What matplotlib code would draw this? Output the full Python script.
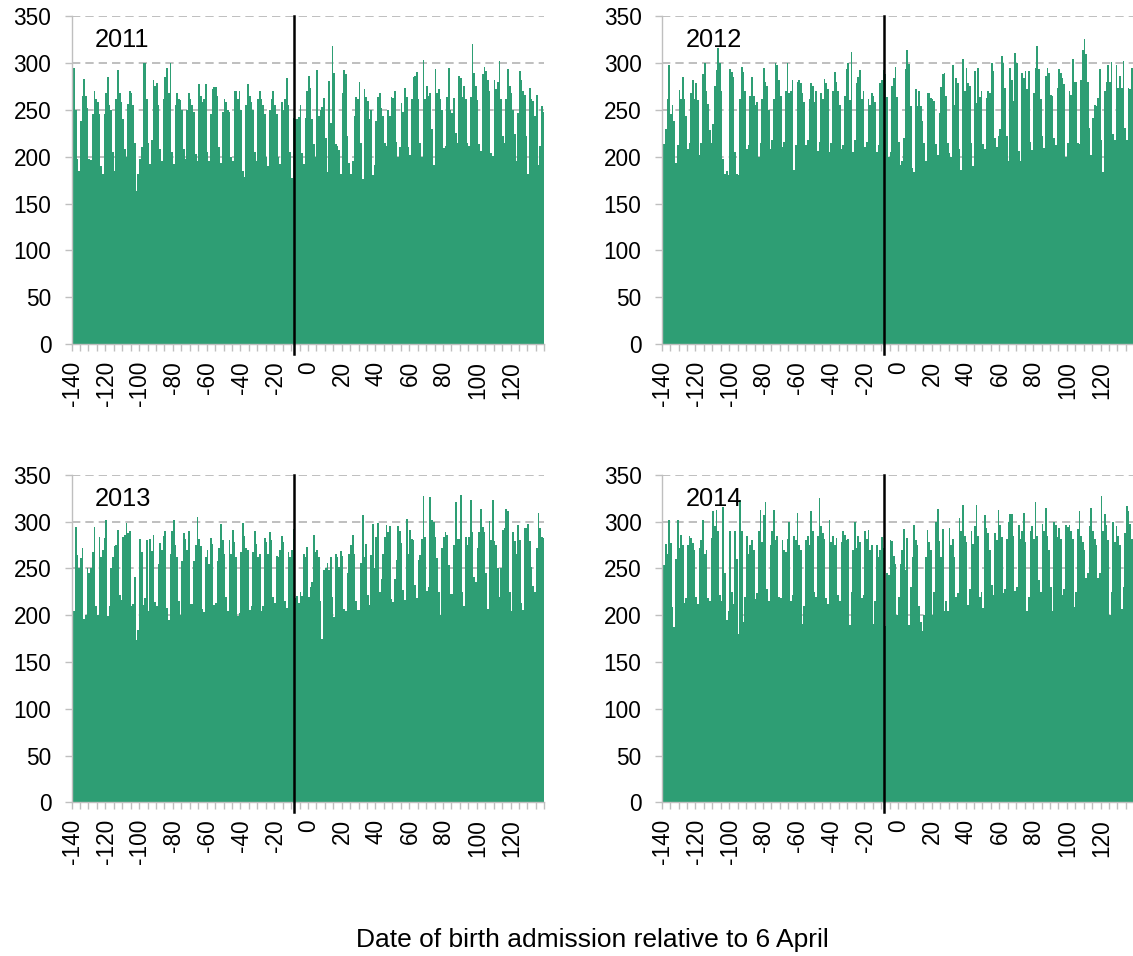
import numpy as np
import matplotlib
matplotlib.use("Agg")
import matplotlib.pyplot as plt

plt.rcParams["font.family"] = ["Liberation Sans", "DejaVu Sans"]

# Daily admissions for birth, days -140 .. 139 relative to 6 April
days = np.arange(-140, 140)

counts_2011 = [
    232, 295, 250, 198, 185, 238, 265,
    283, 265, 252, 197, 196, 245, 270,
    262, 258, 245, 190, 182, 245, 268,
    285, 255, 250, 205, 185, 262, 292,
    268, 258, 240, 208, 200, 256, 270,
    268, 255, 215, 163, 182, 198, 210,
    300, 300, 262, 215, 192, 218, 282,
    275, 278, 255, 208, 195, 262, 285,
    295, 268, 300, 205, 192, 255, 268,
    262, 260, 250, 208, 197, 250, 268,
    262, 255, 248, 203, 195, 277, 265,
    258, 262, 277, 205, 195, 245, 272,
    274, 274, 265, 210, 193, 248, 262,
    258, 250, 248, 200, 195, 270, 270,
    262, 270, 250, 185, 178, 255, 277,
    265, 258, 250, 205, 195, 262, 270,
    262, 255, 245, 200, 190, 250, 262,
    270, 255, 245, 200, 192, 258, 250,
    262, 284, 255, 205, 177, 241, 240,
    240, 242, 255, 204, 192, 241, 270,
    286, 273, 240, 213, 200, 292, 243,
    250, 253, 263, 220, 184, 281, 236,
    318, 289, 213, 211, 207, 181, 268,
    292, 288, 222, 193, 181, 195, 243,
    264, 262, 280, 215, 176, 272, 264,
    259, 240, 250, 180, 191, 238, 264,
    268, 252, 243, 215, 211, 250, 243,
    264, 263, 270, 216, 200, 210, 257,
    248, 273, 264, 210, 202, 262, 285,
    286, 290, 262, 215, 200, 303, 261,
    275, 265, 268, 229, 191, 293, 268,
    272, 262, 250, 209, 211, 264, 295,
    250, 247, 263, 225, 215, 286, 284,
    264, 275, 262, 215, 211, 264, 320,
    289, 275, 260, 213, 206, 288, 296,
    291, 282, 270, 204, 201, 282, 272,
    280, 302, 262, 222, 215, 262, 293,
    275, 268, 250, 224, 195, 247, 291,
    282, 270, 266, 222, 181, 273, 261,
    259, 243, 266, 191, 211, 254, 248,
]

counts_2012 = [
    280, 213, 229, 261, 298, 245, 255,
    238, 193, 212, 271, 262, 285, 262,
    243, 208, 215, 268, 282, 262, 278,
    260, 202, 215, 288, 300, 270, 256,
    228, 215, 235, 275, 292, 316, 300,
    270, 197, 182, 185, 180, 293, 290,
    285, 205, 182, 180, 262, 296, 290,
    270, 208, 212, 265, 285, 265, 255,
    258, 200, 215, 262, 295, 280, 275,
    250, 208, 218, 262, 300, 298, 282,
    265, 210, 216, 270, 300, 268, 270,
    282, 186, 212, 280, 282, 278, 268,
    258, 212, 218, 262, 278, 275, 258,
    270, 206, 216, 268, 262, 283, 278,
    272, 205, 215, 270, 290, 280, 270,
    255, 208, 212, 265, 293, 300, 260,
    312, 205, 218, 278, 285, 292, 262,
    270, 210, 216, 262, 255, 268, 265,
    258, 205, 212, 278, 282, 292, 288,
    264, 200, 205, 275, 284, 296, 264,
    216, 191, 195, 220, 293, 314, 299,
    254, 188, 184, 272, 254, 270, 254,
    238, 215, 195, 268, 268, 263, 261,
    259, 213, 202, 247, 274, 288, 289,
    265, 215, 204, 200, 298, 255, 284,
    279, 208, 186, 304, 270, 295, 278,
    275, 215, 190, 291, 257, 294, 264,
    270, 213, 208, 263, 270, 268, 300,
    291, 220, 210, 222, 229, 307, 300,
    273, 222, 195, 295, 282, 259, 311,
    300, 206, 195, 289, 284, 291, 272,
    291, 216, 207, 268, 295, 318, 293,
    262, 222, 209, 286, 295, 289, 266,
    265, 220, 212, 273, 293, 289, 284,
    277, 200, 215, 270, 266, 304, 280,
    280, 215, 213, 282, 314, 325, 309,
    280, 231, 202, 241, 255, 254, 263,
    293, 218, 184, 270, 280, 298, 280,
    301, 224, 218, 298, 273, 286, 273,
    302, 231, 218, 273, 272, 295, 279,
]

counts_2013 = [
    216, 205, 294, 264, 251, 261, 272,
    196, 200, 250, 245, 251, 268, 294,
    210, 200, 284, 262, 270, 283, 302,
    199, 210, 250, 262, 274, 275, 291,
    222, 216, 284, 286, 299, 288, 290,
    210, 212, 241, 174, 184, 282, 268,
    211, 218, 280, 205, 281, 269, 286,
    214, 210, 255, 277, 270, 285, 290,
    208, 195, 265, 290, 302, 275, 262,
    215, 200, 258, 288, 282, 270, 290,
    212, 212, 258, 275, 305, 282, 274,
    207, 203, 262, 270, 255, 283, 276,
    211, 213, 258, 272, 298, 280, 265,
    220, 204, 280, 266, 291, 278, 262,
    199, 202, 268, 299, 285, 272, 270,
    206, 210, 268, 290, 276, 262, 265,
    204, 210, 283, 278, 265, 289, 280,
    220, 213, 263, 262, 270, 285, 278,
    215, 208, 268, 262, 270, 292, 218,
    221, 213, 225, 221, 266, 262, 273,
    219, 230, 236, 286, 268, 270, 262,
    215, 175, 248, 250, 256, 248, 262,
    219, 198, 266, 262, 252, 269, 263,
    207, 204, 245, 266, 275, 286, 265,
    215, 206, 206, 256, 307, 262, 276,
    222, 211, 264, 298, 251, 284, 299,
    225, 239, 265, 284, 296, 289, 295,
    217, 214, 239, 259, 295, 290, 277,
    227, 216, 303, 266, 291, 282, 280,
    232, 218, 259, 264, 282, 328, 284,
    226, 230, 326, 302, 300, 284, 261,
    225, 200, 272, 284, 289, 286, 254,
    223, 223, 275, 321, 282, 282, 329,
    225, 210, 284, 275, 284, 323, 289,
    241, 235, 272, 289, 314, 294, 289,
    245, 207, 301, 280, 323, 279, 275,
    250, 220, 250, 291, 293, 314, 311,
    225, 204, 289, 279, 265, 297, 280,
    213, 206, 293, 293, 298, 279, 252,
    231, 225, 272, 309, 293, 284, 283,
]

counts_2014 = [
    202, 254, 276, 266, 302, 277, 209,
    187, 260, 302, 272, 286, 275, 213,
    218, 275, 285, 283, 277, 270, 220,
    212, 272, 280, 302, 265, 270, 218,
    215, 283, 311, 295, 312, 290, 222,
    215, 316, 245, 195, 205, 290, 225,
    212, 290, 260, 180, 323, 290, 193,
    220, 285, 265, 275, 280, 270, 217,
    224, 290, 312, 278, 307, 321, 228,
    215, 275, 290, 312, 280, 285, 220,
    218, 280, 270, 268, 282, 300, 215,
    222, 285, 280, 309, 275, 270, 191,
    210, 280, 285, 275, 311, 290, 225,
    220, 285, 325, 295, 288, 282, 218,
    212, 302, 278, 285, 275, 283, 222,
    215, 278, 290, 286, 280, 282, 190,
    225, 270, 300, 272, 285, 278, 218,
    222, 290, 282, 291, 270, 275, 191,
    215, 275, 262, 270, 284, 272, 188,
    245, 243, 280, 279, 263, 255, 200,
    220, 255, 270, 292, 248, 283, 190,
    230, 262, 296, 280, 275, 210, 193,
    183, 200, 262, 291, 278, 270, 200,
    225, 300, 314, 279, 262, 292, 204,
    215, 205, 293, 275, 282, 262, 220,
    224, 304, 290, 318, 285, 278, 211,
    228, 290, 276, 295, 318, 285, 220,
    225, 208, 307, 293, 288, 270, 232,
    222, 288, 280, 312, 296, 284, 224,
    228, 282, 300, 308, 308, 285, 226,
    230, 296, 282, 290, 309, 278, 204,
    220, 290, 295, 282, 321, 285, 238,
    225, 298, 290, 315, 285, 270, 230,
    204, 300, 296, 284, 293, 282, 222,
    228, 296, 294, 296, 290, 282, 209,
    225, 292, 311, 285, 278, 270, 240,
    245, 295, 315, 290, 282, 275, 240,
    245, 327, 290, 308, 296, 280, 200,
    225, 300, 278, 295, 285, 275, 207,
    230, 288, 317, 311, 298, 282, 262,
]

years = ["2011", "2012", "2013", "2014"]
series = [counts_2011, counts_2012, counts_2013, counts_2014]
cutoff_day = -9
label_days = list(range(-140, 121, 20))
y_ticks = list(range(0, 351, 50))

bar_color = "#2e9e74"
axis_grey = "#bfbfbf"
grid_grey = "#b4b4b4"

fig = plt.figure(figsize=(11.33, 9.56), dpi=100)

# panel positions in figure fractions: [left, bottom, width, height]
positions = [
    [0.0632, 0.6399, 0.4172, 0.3434],
    [0.5840, 0.6399, 0.4172, 0.3434],
    [0.0632, 0.1608, 0.4172, 0.3424],
    [0.5840, 0.1608, 0.4172, 0.3424],
]

for year, counts, pos in zip(years, series, positions):
    ax = fig.add_axes(pos)
    ax.bar(days, counts, width=1.0, color=bar_color, linewidth=0, zorder=2)

    ax.set_xlim(-140.5, 139.5)
    ax.set_ylim(0, 350)

    # dashed horizontal gridlines behind the bars
    ax.set_axisbelow(True)
    ax.yaxis.grid(True, color=grid_grey, linewidth=1.2, linestyle=(0, (5, 3)))
    ax.set_yticks(y_ticks)
    ax.set_yticklabels([str(v) for v in y_ticks])

    ax.set_xticks(label_days)
    ax.set_xticklabels([str(d) for d in label_days], rotation=90)
    ax.set_xticks(np.arange(-140.5, 140, 5), minor=True)

    ax.tick_params(axis="x", which="major", length=0, pad=12, labelsize=16.3)
    ax.tick_params(axis="x", which="minor", length=5, width=1.0,
                   color=axis_grey, direction="out")
    ax.tick_params(axis="y", length=5, width=1.0, color=axis_grey,
                   pad=9.5, labelsize=16.3)

    for side in ["top", "right"]:
        ax.spines[side].set_visible(False)
    for side in ["left", "bottom"]:
        ax.spines[side].set_color(axis_grey)
        ax.spines[side].set_linewidth(1.0)
        ax.spines[side].set_zorder(3)

    # vertical marker line, running slightly below the axis
    ax.plot([cutoff_day, cutoff_day], [-10, 350], color="black",
            linewidth=1.8, clip_on=False, zorder=4)

    ax.text(0.05, 0.928, year, transform=ax.transAxes, fontsize=18.3,
            ha="left", va="center", zorder=5)

fig.text(0.523, 0.0167, "Date of birth admission relative to 6 April",
         fontsize=19, ha="center", va="center")

fig.savefig("out.png", dpi=100)
